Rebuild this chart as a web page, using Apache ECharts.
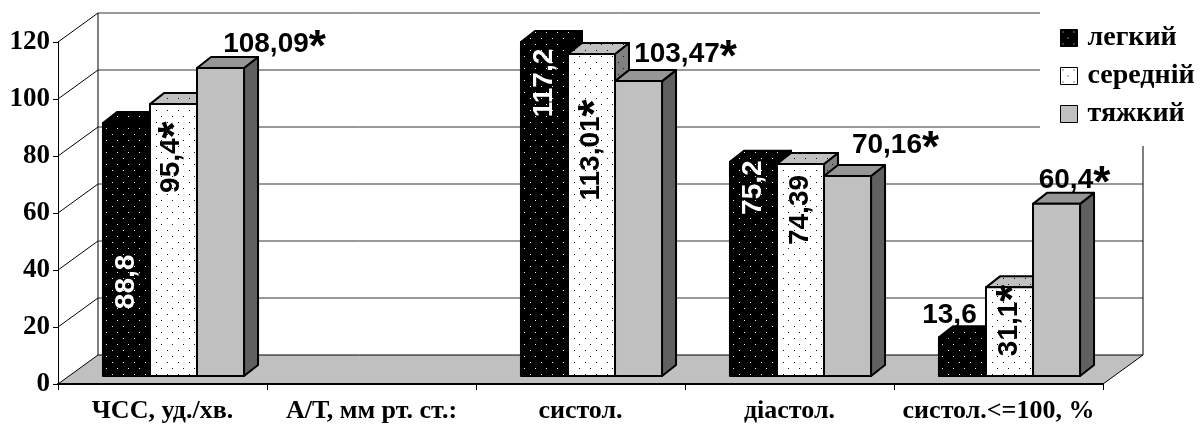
<!DOCTYPE html>
<html>
<head>
<meta charset="utf-8">
<script src="https://cdn.jsdelivr.net/npm/echarts@6/dist/echarts.min.js"></script>
<style>
  html, body { margin: 0; padding: 0; background: #fff; }
  #chart { width: 1200px; height: 428px; }
</style>
</head>
<body>
<div id="chart"></div>
<script>
// ---- data ----
const categories = ['ЧСС, уд./хв.', 'А/Т, мм рт. ст.:', 'систол.', 'діастол.', 'систол.<=100, %'];
const seriesNames = ['легкий', 'середній', 'тяжкий'];
const legkyi   = [88.8,   null, 117.2,  75.2,  13.6];
const serednii = [95.4,   null, 113.01, 74.39, 31.1];
const tiazhkyi = [108.09, null, 103.47, 70.16, 60.4];
// significance mark (*) after a value
const legkyiSig   = [false, false, false, false, false];
const sereedniiSig = [true,  false, true,  false, true];
const tiazhkyiSig = [true,  false, true,  true,  true];
const yTicks = [0, 20, 40, 60, 80, 100, 120];

const seriesValues = [legkyi, serednii, tiazhkyi];
const seriesSig = [legkyiSig, sereedniiSig, tiazhkyiSig];

// ---- 3D projection constants (px) ----
const WALL_DX = 40, WALL_DY = -29;          // depth of floor / back wall
const BAR_FRONT_DX = 11, BAR_FRONT_DY = -8; // bars stand inside the floor depth
const BAR_DX = 14, BAR_DY = -11;            // bar depth
const BAR_FRAC = 0.225;                     // bar width as share of a category

// value label placement relative to the top-front-centre of each bar
// rot: vertical label read bottom-to-top
const labelPlacement = [
  [{rot: true, dx: 0, dy: 159}, null, {rot: true, dx: 0, dy: 41}, {rot: true, dx: 0, dy: 26}, {rot: false, dx: -13, dy: -22}],
  [{rot: true, dx: -2, dy: 53}, null, {rot: true, dx: 0, dy: 96}, {rot: true, dx: 0, dy: 46}, {rot: true, dx: 0, dy: 33}],
  [{rot: false, dx: 54, dy: -24}, null, {rot: false, dx: 47, dy: -27}, {rot: false, dx: 48, dy: -31}, {rot: false, dx: 18, dy: -24}]
];

// ---- dotted fill patterns ----
function dotPattern(bg, dot) {
  const c = document.createElement('canvas');
  c.width = 11; c.height = 12;
  const g = c.getContext('2d');
  g.fillStyle = bg; g.fillRect(0, 0, 11, 12);
  g.fillStyle = dot;
  g.fillRect(2, 2, 1, 1);
  g.fillRect(7, 8, 1, 1);
  return { image: c, repeat: 'repeat' };
}
const P_BLACK = dotPattern('#000000', '#f0f0f0');
const P_WHITE = dotPattern('#ffffff', '#101010');
const P_LIGHTGRAY = dotPattern('#c0c0c0', '#101010');
const P_MIDGRAY = dotPattern('#808080', '#101010');

const faceStyles = [
  { front: P_BLACK, top: P_BLACK, side: P_BLACK },
  { front: P_WHITE, top: P_LIGHTGRAY, side: P_MIDGRAY },
  { front: '#c0c0c0', top: '#969696', side: '#606060' }
];

const LABEL_FONT = 'Liberation Sans, Arial, sans-serif';
const AXIS_FONT = 'Liberation Serif, Times New Roman, serif';

function fmt(v) { return String(v).replace('.', ','); }

function renderWalls(params, api) {
  const cs = params.coordSys;
  const L = cs.x, R = cs.x + cs.width;
  const y0 = api.coord([0, 0])[1];
  const yTop = api.coord([0, yTicks[yTicks.length - 1]])[1];
  const children = [];
  // floor
  children.push({
    type: 'polygon',
    shape: { points: [[L, y0], [R, y0], [R + WALL_DX, y0 + WALL_DY], [L + WALL_DX, y0 + WALL_DY]] },
    style: { fill: '#c0c0c0', stroke: '#000', lineWidth: 1 }
  });
  // side-wall diagonals and back-wall gridlines
  yTicks.forEach(t => {
    const y = api.coord([0, t])[1];
    if (t !== 0) {
      children.push({ type: 'line', shape: { x1: L, y1: y, x2: L + WALL_DX, y2: y + WALL_DY }, style: { stroke: '#000', lineWidth: 1 } });
      children.push({ type: 'line', shape: { x1: L + WALL_DX, y1: y + WALL_DY, x2: R + WALL_DX, y2: y + WALL_DY }, style: { stroke: '#333', lineWidth: 1 } });
    }
  });
  // back wall vertical edges
  children.push({ type: 'line', shape: { x1: L + WALL_DX, y1: y0 + WALL_DY, x2: L + WALL_DX, y2: yTop + WALL_DY }, style: { stroke: '#000', lineWidth: 1 } });
  children.push({ type: 'line', shape: { x1: R + WALL_DX, y1: y0 + WALL_DY, x2: R + WALL_DX, y2: yTop + WALL_DY }, style: { stroke: '#000', lineWidth: 1 } });
  return { type: 'group', children: children };
}

function makeBarRender(si) {
  return function (params, api) {
    const cat = api.value(0);
    const val = api.value(1);
    if (val == null || isNaN(val)) return;
    const base = api.coord([cat, 0]);
    const top = api.coord([cat, val]);
    const band = api.size([1, 0])[0];
    const w = band * BAR_FRAC;
    const x0 = base[0] - 1.5 * w + si * w + BAR_FRONT_DX;
    const x1 = x0 + w;
    const yb = base[1] + BAR_FRONT_DY;
    const yt = top[1] + BAR_FRONT_DY;
    const fs = faceStyles[si];
    const edge = { stroke: '#000', lineWidth: 2, lineJoin: 'round' };
    const children = [
      { type: 'polygon', shape: { points: [[x1, yt], [x1 + BAR_DX, yt + BAR_DY], [x1 + BAR_DX, yb + BAR_DY], [x1, yb]] },
        style: Object.assign({ fill: fs.side }, edge) },
      { type: 'polygon', shape: { points: [[x0, yt], [x1, yt], [x1 + BAR_DX, yt + BAR_DY], [x0 + BAR_DX, yt + BAR_DY]] },
        style: Object.assign({ fill: fs.top }, edge) },
      { type: 'rect', shape: { x: x0, y: yt, width: w, height: yb - yt },
        style: Object.assign({ fill: fs.front }, edge) }
    ];
    const pl = labelPlacement[si][cat];
    if (pl) {
      const sig = seriesSig[si][cat];
      const txt = '{v|' + fmt(val) + '}' + (sig ? '{s|*}' : '');
      const color = (pl.rot && si === 0) ? '#fff' : '#000';
      children.push({
        type: 'text',
        x: (x0 + x1) / 2 + pl.dx,
        y: yt + pl.dy,
        rotation: pl.rot ? Math.PI / 2 : 0,
        z2: 10,
        style: {
          text: txt,
          align: 'center',
          verticalAlign: 'middle',
          fill: color,
          rich: {
            v: { fontFamily: LABEL_FONT, fontWeight: 'bold', fontSize: 28, fill: color },
            s: { fontFamily: LABEL_FONT, fontWeight: 'bold', fontSize: 44, fill: color, padding: [10, 0, 0, 0] }
          }
        }
      });
    }
    return { type: 'group', children: children };
  };
}

const legendStyles = [
  { color: P_BLACK, borderColor: '#000', borderWidth: 1 },
  { color: P_WHITE, borderColor: '#000', borderWidth: 1 },
  { color: '#c0c0c0', borderColor: '#000', borderWidth: 1 }
];

const chart = echarts.init(document.getElementById('chart'), null, { renderer: 'canvas' });

const series = [{
  type: 'custom',
  renderItem: renderWalls,
  data: [[0, 0]],
  z: 1,
  silent: true,
  clip: false
}];
seriesValues.forEach((vals, si) => {
  series.push({
    type: 'custom',
    name: seriesNames[si],
    renderItem: makeBarRender(si),
    data: vals.map((v, i) => [i, v == null ? NaN : v]),
    encode: { x: 0, y: 1 },
    itemStyle: { color: si === 0 ? '#000' : (si === 1 ? '#fff' : '#c0c0c0') },
    z: 2,
    clip: false
  });
});

chart.setOption({
  animation: false,
  backgroundColor: '#fff',
  grid: { left: 58, right: 97, top: 42, bottom: 44, containLabel: false },
  legend: {
    data: seriesNames.map((n, i) => ({ name: n, icon: 'rect', itemStyle: legendStyles[i] })),
    orient: 'vertical',
    left: 1040,
    top: 0,
    padding: [24, 10, 18, 20],
    backgroundColor: '#fff',
    itemWidth: 17,
    itemHeight: 17,
    itemGap: 10,
    selectedMode: false,
    textStyle: { fontFamily: AXIS_FONT, fontWeight: 'bold', fontSize: 28, color: '#000', padding: [0, 0, 0, 5] }
  },
  xAxis: {
    type: 'category',
    data: categories,
    z: 3,
    axisLine: { show: true, lineStyle: { color: '#000', width: 2 } },
    axisTick: { show: true, length: 6, lineStyle: { color: '#000', width: 1 } },
    axisLabel: { interval: 0, margin: 14, color: '#000', fontFamily: AXIS_FONT, fontWeight: 'bold', fontSize: 26 },
    splitLine: { show: false }
  },
  yAxis: {
    type: 'value',
    min: yTicks[0],
    max: yTicks[yTicks.length - 1],
    interval: yTicks[1] - yTicks[0],
    axisLine: { show: true, lineStyle: { color: '#000', width: 1 } },
    axisTick: { show: true, length: 5, lineStyle: { color: '#000', width: 1 } },
    axisLabel: { margin: 8, color: '#000', fontFamily: AXIS_FONT, fontWeight: 'bold', fontSize: 27 },
    splitLine: { show: false }
  },
  series: series
});
</script>
</body>
</html>
